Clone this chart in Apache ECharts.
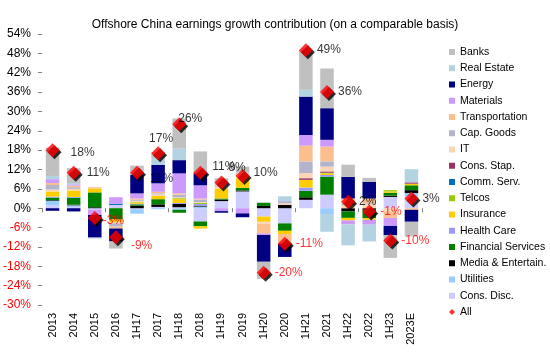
<!DOCTYPE html>
<html><head><meta charset="utf-8">
<script src="https://cdn.jsdelivr.net/npm/echarts@6/dist/echarts.min.js"></script>
<style>html,body{margin:0;padding:0;background:#fff}#c{width:550px;height:357px}</style>
</head><body><div id="c"></div>
<script>
const categories = ['2013','2014','2015','2016','1H17','2017','1H18','2018','1H19','2019','1H20','2020','1H21','2021','1H22','2022','1H23','2023E'];
const yTicks = [-30,-24,-18,-12,-6,0,6,12,18,24,30,36,42,48,54];

const banks          = [8.8, 4.6, 0, -2.2, 2.8, 2.0, 9.3, 6.8, 2.3, 1.8, -5.3, 0, 12.2, 12.3, 3.8, 1.2, -7.0, -4.5];
const realEstate     = [1.0, 0.4, -0.3, 0, 0, 1.9, 3.6, 0, 0, 0.5, 0, 1.5, 2.1, -5.5, -6.5, -5.2, 0, 4.1];
const energy         = [-0.8, -1.0, -7.0, -4.0, 5.8, 5.7, 4.1, 3.7, -0.5, -1.2, -8.3, -4.1, 11.9, 9.8, 6.7, 5.2, -2.9, -3.7];
const materials      = [1.2, 0.4, -1.6, 2.0, 1.6, 2.6, 6.2, 4.1, -0.9, -1.6, -0.5, 0, 3.3, 2.1, -1.2, -1.5, -2.5, 0];
const transportation = [0.6, 0.5, 0.4, -0.6, 0.4, 0.5, 0.4, 0.3, 0.5, 0.5, -3.0, -3.0, 4.9, 4.6, 1.5, 1.5, -1.8, -0.5];
const capGoods       = [1.4, 0.5, 0, -1.0, 0.3, 0.3, 0.8, 0.8, 0, 0.3, 0, 0.7, 3.6, 1.6, 0.5, 0.3, 0, 0];
const it             = [0.6, 0.5, 0, -0.3, 0.3, 0.5, 0.3, 0.3, 0.4, 0.5, -0.6, 0.5, 1.6, 1.5, 1.0, 1.2, -1.2, 0];
const consStap       = [0, 0, 0, 0, 0, 0, 0, 0, 0, 0, 0, 0, 0.5, 0.4, 0, 0, 0, 0.4];
const commServ       = [0, 0, 0, 0.4, 0, 0, 0, 0, 0, 0, 0, 0, 0, 0, 0, 0, 0, 0];
const telcos         = [0, 0, 0, 0, 0.2, 0, 0.3, 0.3, 0, 0, 0, 0, 0, 0.2, 0, 0, 0.4, 0];
const insurance      = [1.6, 2.0, 1.2, -0.9, 0.4, 1.0, 1.2, -0.7, 3.1, 3.0, -1.6, -1.0, 2.4, 0.5, -0.8, -0.5, 0.4, 0.5];
const healthCare     = [0.3, 0.2, 0, 0, 0.2, 0, 0.3, 0.5, 0, 0, 0, 0, 1.0, 0.5, 0, 0, 0, 0];
const finServices    = [0.8, 2.2, 4.6, -3.5, 0.4, 1.6, -0.9, -1.5, 0.3, 0.8, 1.0, -2.3, 2.0, 5.6, -2.0, -2.6, 0.9, 1.5];
const media          = [0.2, 0.2, 0.3, 0, 0.8, 0.8, 1.0, 0.3, 0.5, 0.3, 0.7, 1.0, 0.8, 0, -1.0, -0.5, 0.4, 0.9];
const utilities      = [1.4, 0.5, 0, 0, -1.4, -0.3, -0.5, 0.5, 0, 0, 0, 0, 0, -1.8, 0, 0, 0, 1.0];
const consDisc       = [0.9, 0.4, -0.5, 1.0, -0.3, 0.4, 0.3, -4.1, 2.2, 5.2, -2.6, -4.7, 2.6, 4.2, 0, 0, 3.5, 3.7];
const all            = [18, 11, -3, -9, 11, 17, 26, 11, 8, 10, -20, -11, 49, 36, 2, -1, -10, 3];

// stacking order: first = closest to zero
const stackDefs = [
  ['Cons. Disc.', consDisc, '#CCCCFF'],
  ['Utilities', utilities, '#99CCFF'],
  ['Media & Entertain.', media, '#000000'],
  ['Financial Services', finServices, '#008000'],
  ['Health Care', healthCare, '#9999FF'],
  ['Insurance', insurance, '#FFCC00'],
  ['Telcos', telcos, '#99CC00'],
  ['Comm. Serv.', commServ, '#0070C0'],
  ['Cons. Stap.', consStap, '#993366'],
  ['IT', it, '#FCD5B4'],
  ['Cap. Goods', capGoods, '#B3B3CC'],
  ['Transportation', transportation, '#FBBF8F'],
  ['Materials', materials, '#CC99FF'],
  ['Energy', energy, '#000080'],
  ['Real Estate', realEstate, '#B4D3E2'],
  ['Banks', banks, '#C0C0C0']
];

// label placement tweaks (style only)
const labelTweaks = {
  '2013': {offset:[7,3]}, '2014': {offset:[2,0]}, '2015': {offset:[-3,3]}, '2016': {offset:[4,8]},
  '1H17': {offset:[2,6]}, '2017': {position:'top', distance:2, offset:[3,0]},
  '1H18': {offset:[-12,-6]}, '2018': {offset:[1,-6]}, '1H19': {offset:[-4,-15]}, '2019': {offset:[0,-3]}
};

const FONT = 'Liberation Sans, Arial, sans-serif';
const series = stackDefs.map(([name, data, color]) => ({
  name, type: 'bar', stack: 'total', data, barWidth: '64%',
  itemStyle: {color}, emphasis: {disabled: true}, silent: true
}));

series.push({
  name: 'All shadow', type: 'scatter', symbol: 'diamond', symbolSize: 14, symbolOffset: [2, 2],
  data: all, itemStyle: {color: '#000'}, z: 4, silent: true
});
series.push({
  name: 'All', type: 'scatter', symbol: 'diamond', symbolSize: 14, z: 5, silent: true,
  itemStyle: {color: '#FF0000'},
  data: all.map((v, i) => {
    const t = labelTweaks[categories[i]] || {};
    return {
      value: v,
      label: Object.assign({show: true, position: 'right', distance: 4,
        color: v < 0 ? '#FF0000' : '#000000'}, t)
    };
  }),
  label: {show: true, formatter: p => p.value + '%', fontSize: 12, fontFamily: FONT}
});

const legendData = stackDefs.slice().reverse().map(d => ({name: d[0], icon: 'rect'}));
legendData.push({name: 'All', icon: 'diamond'});

const chart = echarts.init(document.getElementById('c'), null, {renderer: 'canvas'});
chart.setOption({
  animation: false,
  backgroundColor: '#fff',
  textStyle: {fontFamily: FONT},
  title: {
    text: 'Offshore China earnings growth contribution (on a comparable basis)',
    left: 'center', top: 14,
    textStyle: {fontSize: 12, fontWeight: 'normal', color: '#000', fontFamily: FONT}
  },
  legend: {
    data: legendData, orient: 'vertical', left: 449, top: 46, padding: 0,
    itemWidth: 6, itemHeight: 6, itemGap: 4.25, selectedMode: false,
    textStyle: {fontSize: 10.5, lineHeight: 12, color: '#000', fontFamily: FONT}
  },
  grid: {left: 42, right: 128, top: 34, bottom: 52, containLabel: false, outerBoundsMode: 'none'},
  xAxis: [{
    type: 'category', data: categories, position: 'bottom',
    axisLine: {show: false, onZero: false}, axisTick: {show: false},
    axisLabel: {interval: 0, rotate: 90, margin: 8, fontSize: 11, color: '#000', fontFamily: FONT}
  }, {
    type: 'category', data: categories, position: 'bottom',
    axisLine: {show: true, onZero: true, lineStyle: {color: 'rgba(0,0,0,0)'}},
    axisTick: {show: true, length: 4, lineStyle: {color: '#808080'}},
    axisLabel: {show: false}
  }],
  yAxis: {
    type: 'value', min: yTicks[0], max: yTicks[yTicks.length - 1], interval: 6,
    splitLine: {show: false},
    axisLine: {show: false},
    axisTick: {show: true, length: 4, lineStyle: {color: '#808080'}},
    axisLabel: {
      fontSize: 12, margin: 11, fontFamily: FONT,
      formatter: v => v + '%',
      color: v => (v < 0 ? '#FF0000' : '#000000')
    }
  },
  series
});
</script></body></html>
